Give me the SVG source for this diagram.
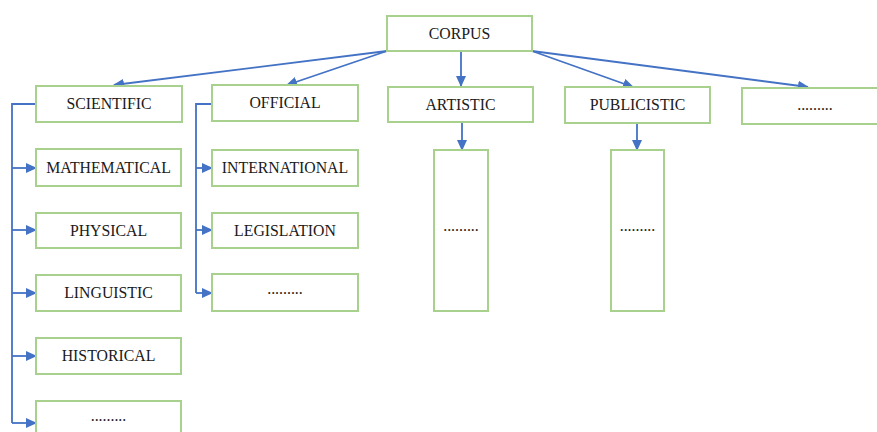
<svg xmlns="http://www.w3.org/2000/svg" width="877" height="432" viewBox="0 0 877 432">
<defs>
<marker id="ah" markerWidth="11" markerHeight="10" refX="10" refY="5" orient="auto" markerUnits="userSpaceOnUse">
<path d="M0,0 L11,5 L0,10 Z" fill="#4472c4"/>
</marker>
<style>
.box{fill:#fff;stroke:#a9d18e;stroke-width:2}
.t{font-family:"Liberation Serif","Times New Roman",serif;font-size:15.8px;fill:#1a1a1a;text-anchor:middle}
.c{fill:none;stroke:#4472c4;stroke-width:1.8}
</style>
</defs>
<rect width="877" height="432" fill="#fff"/>
<g id="connectors">
<line class="c" x1="387" y1="51" x2="114" y2="85" marker-end="url(#ah)"/>
<line class="c" x1="387" y1="51" x2="287" y2="85" marker-end="url(#ah)"/>
<line class="c" x1="461" y1="51" x2="461" y2="86" marker-end="url(#ah)"/>
<line class="c" x1="532" y1="51" x2="633" y2="87" marker-end="url(#ah)"/>
<line class="c" x1="532" y1="51" x2="808" y2="87" marker-end="url(#ah)"/>
<line class="c" x1="462" y1="122" x2="462" y2="150" marker-end="url(#ah)"/>
<line class="c" x1="637" y1="123" x2="637" y2="150" marker-end="url(#ah)"/>
<polyline class="c" points="36,104 12,104 12,423"/>
<line class="c" x1="12" y1="168" x2="36" y2="168" marker-end="url(#ah)"/>
<line class="c" x1="12" y1="230" x2="36" y2="230" marker-end="url(#ah)"/>
<line class="c" x1="12" y1="293" x2="36" y2="293" marker-end="url(#ah)"/>
<line class="c" x1="12" y1="356" x2="36" y2="356" marker-end="url(#ah)"/>
<line class="c" x1="12" y1="423" x2="36" y2="423" marker-end="url(#ah)"/>
<polyline class="c" points="212,104 196,104 196,293"/>
<line class="c" x1="196" y1="168" x2="212" y2="168" marker-end="url(#ah)"/>
<line class="c" x1="196" y1="230" x2="212" y2="230" marker-end="url(#ah)"/>
<line class="c" x1="196" y1="293" x2="212" y2="293" marker-end="url(#ah)"/>
</g>
<g id="corpus"><rect class="box" x="387" y="16" width="145" height="35"/><text class="t" x="459.5" y="39">CORPUS</text></g>
<g id="scientific"><rect class="box" x="36" y="86" width="146" height="36"/><text class="t" x="109" y="109">SCIENTIFIC</text></g>
<g id="official"><rect class="box" x="212" y="85" width="146" height="36"/><text class="t" x="285" y="108">OFFICIAL</text></g>
<g id="artistic"><rect class="box" x="388" y="87" width="145" height="35"/><text class="t" x="460.5" y="110">ARTISTIC</text></g>
<g id="publicistic"><rect class="box" x="565" y="87" width="145" height="36"/><text class="t" x="637.5" y="110">PUBLICISTIC</text></g>
<g id="other"><rect class="box" x="742" y="88" width="146" height="36"/><text class="t" x="815" y="110">.........</text></g>
<g id="mathematical"><rect class="box" x="36" y="149" width="145" height="37"/><text class="t" x="108.5" y="173">MATHEMATICAL</text></g>
<g id="physical"><rect class="box" x="36" y="213" width="145" height="35"/><text class="t" x="108.5" y="236">PHYSICAL</text></g>
<g id="linguistic"><rect class="box" x="36" y="275" width="145" height="36"/><text class="t" x="108.5" y="298">LINGUISTIC</text></g>
<g id="historical"><rect class="box" x="36" y="338" width="145" height="36"/><text class="t" x="108.5" y="361">HISTORICAL</text></g>
<g id="sci-other"><rect class="box" x="36" y="401" width="145" height="40"/><text class="t" x="108.5" y="421">.........</text></g>
<g id="international"><rect class="box" x="212" y="150" width="146" height="36"/><text class="t" x="285" y="173">INTERNATIONAL</text></g>
<g id="legislation"><rect class="box" x="212" y="213" width="146" height="35"/><text class="t" x="285" y="236">LEGISLATION</text></g>
<g id="off-other"><rect class="box" x="212" y="274" width="146" height="37"/><text class="t" x="285" y="294">.........</text></g>
<g id="art-other"><rect class="box" x="434" y="150" width="54" height="161"/><text class="t" x="461" y="231">.........</text></g>
<g id="pub-other"><rect class="box" x="611" y="150" width="53" height="161"/><text class="t" x="637.5" y="231">.........</text></g>
</svg>
